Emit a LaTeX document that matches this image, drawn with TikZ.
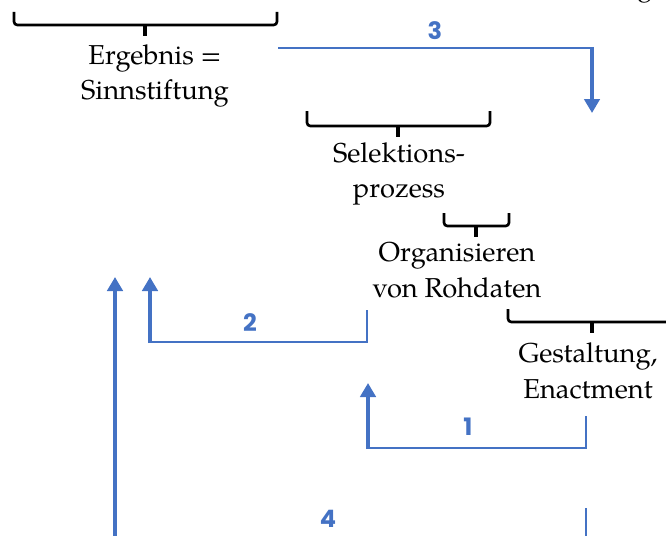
\documentclass[tikz,border=0pt]{standalone}
\usepackage{fontspec}
\setmainfont{TeX Gyre Pagella}
\newfontfamily\digitfont{Poppins}
\usetikzlibrary{arrows.meta}
\definecolor{flowblue}{HTML}{4472C4}

% bracket: left x, right x, top y, bottom y, tick x
\newcommand\drawbracket[5]{%
  \draw[bracket] ({#1},{#3}) -- ({#1},{#4}) -- ({#2},{#4}) -- ({#2},{#3});
  \draw[bracket tick] ({#5},{#4}) -- ({#5},{#4+11});
}

\begin{document}
\begin{tikzpicture}[x=0.75pt,y=-0.75pt,
  lbl/.style={font=\fontsize{20.5}{26.5}\selectfont, align=center, inner sep=0pt},
  num/.style={font=\digitfont\bfseries\fontsize{18}{18}\selectfont, text=flowblue, inner sep=0pt},
  bracket/.style={line width=2pt, rounded corners=2.5pt},
  bracket tick/.style={line width=3pt},
  thinflow/.style={draw=flowblue, line width=1.6pt},
  thickflow/.style={draw=flowblue, line width=3pt, -{Triangle[width=11.5pt,length=10.5pt]}},
]
\useasboundingbox (0,0) rectangle (666,535);
\clip (0,0) rectangle (666,535);

% cropped word at the top edge
\node[lbl, anchor=base] (cut) at (645,-4) {g};

% brackets and their labels
\drawbracket{14}{277}{12}{25}{145}
\node[lbl] (sinn) at (155,76) {Ergebnis =\\Sinnstiftung};

\drawbracket{307}{490}{111}{126}{398}
\node[lbl] (sel) at (399,174) {Selektions-\\prozess};

\drawbracket{444}{509}{213}{226}{476}
\node[lbl] (org) at (457,270) {Organisieren\\von Rohdaten};

\drawbracket{508}{676}{309}{322}{592}
\node[lbl] (enact) at (588,371) {Gestaltung,\\Enactment};

% flow 3
\coordinate (a3s) at (278,48);
\coordinate (a3c) at (592,48);
\coordinate (a3e) at (592,113);
\draw[thinflow] (a3s) -- (a3c);
\draw[thickflow] ([yshift=0.8pt]a3c) -- (a3e);
\node[num] (n3) at (435,31) {3};

% flow 2
\coordinate (a2s) at (367,310);
\coordinate (a2b) at (367,342);
\coordinate (a2c) at (150,342);
\coordinate (a2e) at (150,277);
\draw[thinflow] (a2s) -- (a2b) -- (a2c);
\draw[thickflow] ([yshift=-0.8pt]a2c) -- (a2e);
\node[num] (n2) at (250,323) {2};

% flow 1
\coordinate (a1s) at (586,416);
\coordinate (a1b) at (586,448);
\coordinate (a1c) at (368,448);
\coordinate (a1e) at (368,383);
\draw[thinflow] (a1s) -- (a1b) -- (a1c);
\draw[thickflow] ([yshift=-0.8pt]a1c) -- (a1e);
\node[num] (n1) at (468,427) {1};

% flow 4
\coordinate (a4s) at (586,508);
\coordinate (a4b) at (586,560);
\coordinate (a4c) at (115,560);
\coordinate (a4e) at (115,277);
\draw[thinflow] (a4s) -- (a4b) -- (a4c);
\draw[thickflow] (a4c) -- (a4e);
\node[num] (n4) at (328,519) {4};
\end{tikzpicture}
\end{document}
